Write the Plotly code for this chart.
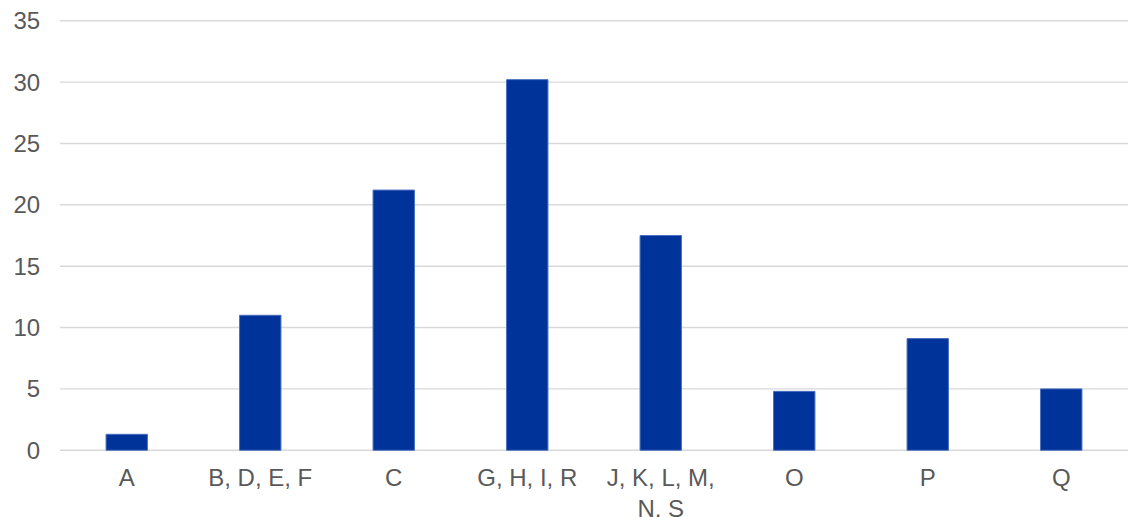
import plotly.graph_objects as go

categories = ["A", "B, D, E, F", "C", "G, H, I, R", "J, K, L, M,<br>N, S", "O", "P", "Q"]
values = [1.3, 11.0, 21.2, 30.2, 17.5, 4.8, 9.1, 5.0]
y_ticks = [0, 5, 10, 15, 20, 25, 30, 35]

font_family = "Liberation Sans, Arial, sans-serif"
text_color = "#595959"
grid_color = "#d9d9d9"

fig = go.Figure(
    go.Bar(
        x=categories,
        y=values,
        marker=dict(color="#003399", line=dict(color="#4a6fc0", width=1)),
        hoverinfo="x+y",
    )
)

# horizontal gridlines at each tick value (drawn below the bars)
for t in y_ticks:
    fig.add_shape(
        type="line", xref="paper", yref="y",
        x0=0, x1=1, y0=t, y1=t,
        line=dict(color=grid_color, width=1.4),
        layer="below",
    )

fig.update_layout(
    width=1128,
    height=517,
    margin=dict(l=60, r=0, t=20, b=66),
    paper_bgcolor="white",
    plot_bgcolor="white",
    bargap=0.69,
    showlegend=False,
    font=dict(family=font_family, size=24, color=text_color),
)

fig.update_xaxes(
    automargin=False,
    showgrid=False,
    showline=False,
    zeroline=False,
    ticks="outside",
    ticklen=5,
    tickcolor="rgba(0,0,0,0)",
    tickfont=dict(family=font_family, size=24, color=text_color),
)

fig.update_yaxes(
    automargin=False,
    range=[-0.06, 35.06],
    tickvals=y_ticks,
    showgrid=False,
    zeroline=False,
    showline=False,
    ticks="outside",
    ticklen=14,
    tickcolor="rgba(0,0,0,0)",
    tickfont=dict(family=font_family, size=24, color=text_color),
)

fig.write_html("out.html", config={"displayModeBar": False})

# remove the default page margin so the figure sits at the window's top-left corner
with open("out.html", "r", encoding="utf-8") as f:
    html = f.read()
html = html.replace("<head>", "<head><style>html,body{margin:0;padding:0;overflow:hidden;}</style>", 1)
with open("out.html", "w", encoding="utf-8") as f:
    f.write(html)
